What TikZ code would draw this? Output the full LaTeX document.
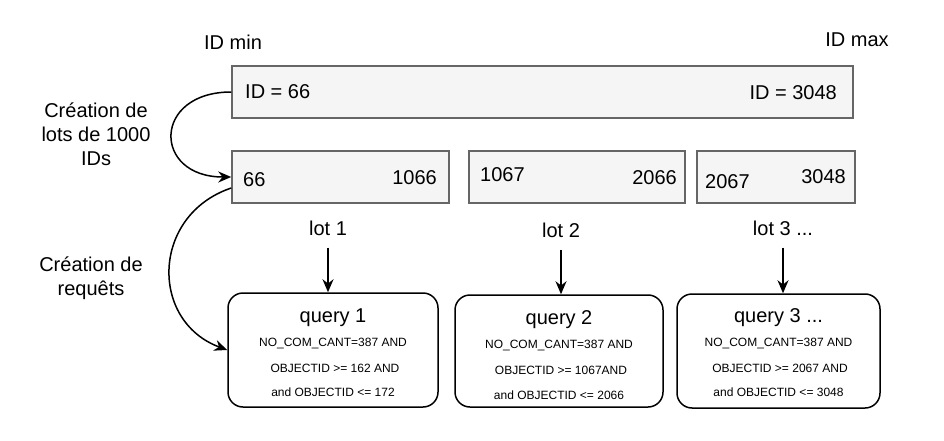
\documentclass[tikz,border=0pt]{standalone}
\usepackage{fontspec}
\setmainfont{Liberation Sans}
\usetikzlibrary{arrows.meta,calc}
\definecolor{boxgray}{HTML}{666666}
\definecolor{boxfill}{HTML}{F5F5F5}
\begin{document}
\begin{tikzpicture}[x=1pt,y=-1pt,
 graybox/.style={draw=boxgray, fill=boxfill, line width=1.5pt, minimum height=52pt, inner sep=0pt},
 qbox/.style={draw=black, line width=1.5pt, rounded corners=15pt, inner sep=0pt},
 big/.style={font=\fontsize{20}{24}\selectfont, inner sep=0pt},
 small/.style={font=\fontsize{12}{14}\selectfont, inner sep=0pt},
 arr/.style={-{Stealth[length=13pt,width=11pt]}, line width=1.5pt}]
\useasboundingbox (0,0) rectangle (944,441);

% top box
\node[graybox, minimum width=621pt] (top) at (542.5,92) {};
\node[big, anchor=west] (tmin) at (245,92) {ID = 66};
\node[big, anchor=east] (tmax) at (837,93) {ID = 3048};
\node[big] (idmin) at (233,42) {ID min};
\node[big] (idmax) at (857,40) {ID max};

% lots
\node[graybox, minimum width=217pt] (lot1) at (340.5,177) {};
\node[graybox, minimum width=216pt] (lot2) at (577,177) {};
\node[graybox, minimum width=158pt] (lot3) at (776,177) {};
\node[big, anchor=west] (l1a) at (243,180) {66};
\node[big, anchor=east] (l1b) at (437,178) {1066};
\node[big, anchor=west] (l2a) at (480,175) {1067};
\node[big, anchor=east] (l2b) at (677,178) {2066};
\node[big, anchor=west] (l3a) at (705,182) {2067};
\node[big, anchor=east] (l3b) at (846,177) {3048};

% lot labels
\node[big] (lab1) at (328,228) {lot 1};
\node[big] (lab2) at (561,230) {lot 2};
\node[big] (lab3) at (783,228) {lot 3 ...};

% query boxes
\node[qbox, minimum width=210pt, minimum height=114pt] (q1) at (333,350) {};
\node[qbox, minimum width=208pt, minimum height=112pt] (q2) at (559,351) {};
\node[qbox, minimum width=203pt, minimum height=114pt] (q3) at (778.5,351) {};

\node[big] (q1t) at (333,318) {query 1};
\node[small] (q1a) at (333,343) {NO\_COM\_CANT=387 AND};
\node[small] (q1b) at (335,368) {OBJECTID >= 162 AND};
\node[small] (q1c) at (333,392) {and OBJECTID <= 172};

\node[big] (q2t) at (559,320) {query 2};
\node[small] (q2a) at (559,345) {NO\_COM\_CANT=387 AND};
\node[small] (q2b) at (561,370) {OBJECTID >= 1067AND};
\node[small] (q2c) at (559,395) {and OBJECTID <= 2066};

\node[big] (q3t) at (778.5,318) {query 3 ...};
\node[small] (q3a) at (778.5,343) {NO\_COM\_CANT=387 AND};
\node[small] (q3b) at (780,368) {OBJECTID >= 2067 AND};
\node[small] (q3c) at (778.5,392) {and OBJECTID <= 3048};

% side labels
\node[big, align=center, font=\fontsize{20}{24}\selectfont] (side1) at (96,134) {Création de\\lots de 1000\\IDs};
\node[big, align=center, font=\fontsize{20}{24}\selectfont] (side2) at (91,278) {Création de\\requêts};

% arrows
\draw[arr] ([yshift=-12pt]lab1.south) -- (lab1.south |- q1.north);
\draw[arr] ([yshift=-12pt]lab2.south) -- (lab2.south |- q2.north);
\draw[arr] ([yshift=-12pt]lab3.south) -- (lab3.south |- q3.north);

\draw[arr] (top.west) .. controls +(-79,0) and +(-79,0) .. (lot1.west);
\draw[arr] ([yshift=-11pt]lot1.west) .. controls +(-80,27) and +(-78,-29) .. (q1.west);
\end{tikzpicture}
\end{document}
